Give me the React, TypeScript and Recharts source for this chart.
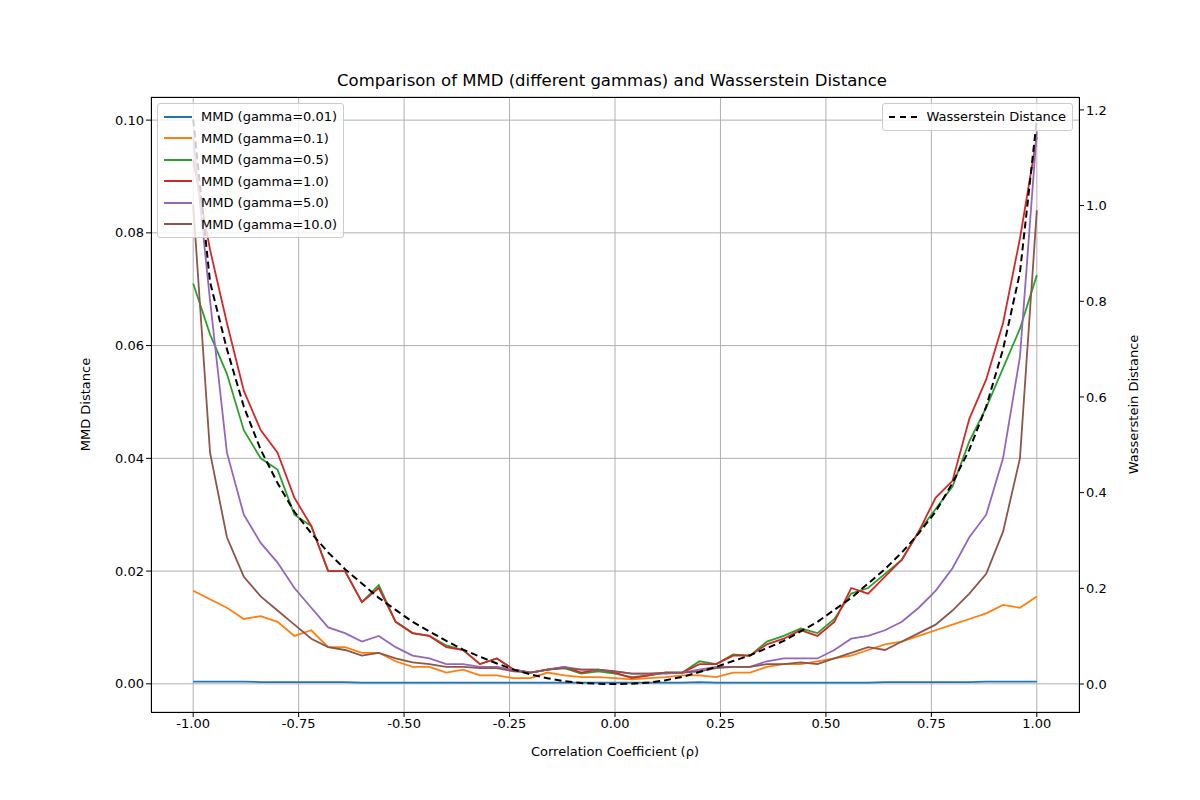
import { LineChart, Line, XAxis, YAxis, CartesianGrid } from 'recharts';

const rho = [
  -1, -0.96, -0.92, -0.88, -0.84, -0.8, -0.76, -0.72, -0.68, -0.64, -0.6, -0.56, -0.52, -0.48, -0.44, -0.4, -0.36,
  -0.32, -0.28, -0.24, -0.2, -0.16, -0.12, -0.08, -0.04, 0, 0.04, 0.08, 0.12, 0.16, 0.2, 0.24, 0.28, 0.32, 0.36, 0.4,
  0.44, 0.48, 0.52, 0.56, 0.6, 0.64, 0.68, 0.72, 0.76, 0.8, 0.84, 0.88, 0.92, 0.96, 1,
];

const g001 = [
  0.0004, 0.0004, 0.0004, 0.0004, 0.0003, 0.0003, 0.0003, 0.0003, 0.0003, 0.0003, 0.0002, 0.0002, 0.0002, 0.0002,
  0.0002, 0.0002, 0.0002, 0.0002, 0.0002, 0.0002, 0.0002, 0.0002, 0.0002, 0.0002, 0.0002, 0.0002, 0.0002, 0.0002,
  0.0002, 0.0002, 0.0003, 0.0002, 0.0002, 0.0002, 0.0002, 0.0002, 0.0002, 0.0002, 0.0002, 0.0002, 0.0002, 0.0003,
  0.0003, 0.0003, 0.0003, 0.0003, 0.0003, 0.0004, 0.0004, 0.0004, 0.0004,
];
const g01 = [
  0.0165, 0.015, 0.0135, 0.0115, 0.012, 0.011, 0.0085, 0.0095, 0.0065, 0.0065, 0.0055, 0.0055, 0.004, 0.003, 0.003,
  0.002, 0.0025, 0.0015, 0.0015, 0.001, 0.001, 0.002, 0.0015, 0.0012, 0.0012, 0.001, 0.0008, 0.001, 0.0012, 0.0015,
  0.0015, 0.0012, 0.002, 0.002, 0.003, 0.0035, 0.0035, 0.004, 0.0045, 0.005, 0.006, 0.007, 0.0075, 0.0085, 0.0095,
  0.0105, 0.0115, 0.0125, 0.014, 0.0135, 0.0155,
];
const g05 = [
  0.071, 0.062, 0.055, 0.045, 0.04, 0.038, 0.03, 0.028, 0.02, 0.02, 0.0145, 0.0175, 0.011, 0.009, 0.0085, 0.0068,
  0.006, 0.0035, 0.0045, 0.0025, 0.002, 0.0025, 0.0028, 0.0018, 0.0022, 0.0018, 0.0012, 0.0015, 0.002, 0.002, 0.004,
  0.0035, 0.0052, 0.005, 0.0075, 0.0085, 0.0098, 0.009, 0.0115, 0.016, 0.017, 0.0195, 0.022, 0.027, 0.031, 0.035,
  0.043, 0.049, 0.056, 0.063, 0.0725,
];
const g1 = [
  0.093, 0.077, 0.064, 0.052, 0.045, 0.041, 0.033, 0.028, 0.02, 0.02, 0.0145, 0.017, 0.011, 0.009, 0.0085, 0.0065,
  0.006, 0.0035, 0.0045, 0.0025, 0.002, 0.0025, 0.003, 0.002, 0.0025, 0.002, 0.001, 0.0015, 0.002, 0.002, 0.0035,
  0.0035, 0.005, 0.005, 0.007, 0.008, 0.0095, 0.0085, 0.011, 0.017, 0.016, 0.019, 0.022, 0.027, 0.033, 0.036, 0.047,
  0.054, 0.064, 0.079, 0.097,
];
const g5 = [
  0.097, 0.068, 0.041, 0.03, 0.025, 0.0215, 0.017, 0.0135, 0.01, 0.009, 0.0075, 0.0085, 0.0065, 0.005, 0.0045, 0.0035,
  0.0035, 0.003, 0.003, 0.0025, 0.002, 0.0025, 0.003, 0.0025, 0.0025, 0.0022, 0.0018, 0.0018, 0.0018, 0.002, 0.0025,
  0.003, 0.003, 0.003, 0.004, 0.0045, 0.0045, 0.0045, 0.006, 0.008, 0.0085, 0.0095, 0.011, 0.0135, 0.0165, 0.0205,
  0.026, 0.03, 0.04, 0.058, 0.098,
];
const g10 = [
  0.085, 0.041, 0.026, 0.019, 0.0155, 0.013, 0.0105, 0.008, 0.0065, 0.006, 0.005, 0.0055, 0.0045, 0.0038, 0.0035,
  0.003, 0.003, 0.0028, 0.0028, 0.0022, 0.002, 0.0025, 0.0028, 0.0025, 0.0025, 0.0022, 0.0018, 0.0018, 0.002, 0.002,
  0.0022, 0.0028, 0.003, 0.003, 0.0035, 0.0035, 0.0038, 0.0035, 0.0045, 0.0055, 0.0065, 0.006, 0.0075, 0.009, 0.0105,
  0.013, 0.016, 0.0195, 0.027, 0.04, 0.084,
];
const wass = [
  1.18, 0.84, 0.7, 0.58, 0.49, 0.42, 0.36, 0.315, 0.275, 0.24, 0.21, 0.18, 0.155, 0.13, 0.11, 0.09, 0.072, 0.057,
  0.043, 0.03, 0.02, 0.012, 0.006, 0.002, 0.0005, 0, 0.0005, 0.003, 0.008, 0.015, 0.025, 0.036, 0.048, 0.06, 0.075,
  0.09, 0.11, 0.13, 0.155, 0.18, 0.21, 0.24, 0.275, 0.315, 0.36, 0.42, 0.49, 0.58, 0.7, 0.86, 1.18,
];

const xTicks = [-1, -0.75, -0.5, -0.25, 0, 0.25, 0.5, 0.75, 1];
const leftTicks = [0, 0.02, 0.04, 0.06, 0.08, 0.1];
const rightTicks = [0, 0.2, 0.4, 0.6, 0.8, 1.0, 1.2];

const series = [
  { key: 'g001', name: 'MMD (gamma=0.01)', color: '#1f77b4' },
  { key: 'g01', name: 'MMD (gamma=0.1)', color: '#ff7f0e' },
  { key: 'g05', name: 'MMD (gamma=0.5)', color: '#2ca02c' },
  { key: 'g1', name: 'MMD (gamma=1.0)', color: '#d62728' },
  { key: 'g5', name: 'MMD (gamma=5.0)', color: '#9467bd' },
  { key: 'g10', name: 'MMD (gamma=10.0)', color: '#8c564b' },
];

const data = rho.map((r, i) => ({
  rho: r,
  g001: g001[i],
  g01: g01[i],
  g05: g05[i],
  g1: g1[i],
  g5: g5[i],
  g10: g10[i],
  wass: wass[i],
}));

const font = 'DejaVu Sans, sans-serif';
const tick = { fill: '#000', fontSize: 13, fontFamily: font };

export default function App() {
  return (
    <div style={{ position: 'absolute', left: 0, top: 0, width: 1200, height: 800, background: '#fff', fontFamily: font }}>
      <div style={{ position: 'absolute', top: 71, width: 1224, textAlign: 'center', fontSize: 16.5 }}>
        Comparison of MMD (different gammas) and Wasserstein Distance
      </div>
      <LineChart width={1200} height={800} data={data} margin={{ top: 97, left: 91, right: 61, bottom: 58 }}>
        <CartesianGrid stroke="#b0b0b0" strokeWidth={1} yAxisId="left" />
        <XAxis
          dataKey="rho"
          type="number"
          domain={[-1.1, 1.1]}
          ticks={xTicks}
          tickFormatter={(v: number) => v.toFixed(2)}
          tick={tick}
          tickSize={5}
          axisLine={false}
          tickLine={{ stroke: '#000' }}
          height={30}
          label={{ value: 'Correlation Coefficient (ρ)', position: 'insideBottom', offset: -14, fill: '#000', fontSize: 13, fontFamily: font }}
        />
        <YAxis
          yAxisId="left"
          type="number"
          domain={[-0.005, 0.1041]}
          ticks={leftTicks}
          tickFormatter={(v: number) => v.toFixed(2)}
          tick={tick}
          tickSize={5}
          axisLine={false}
          tickLine={{ stroke: '#000' }}
          width={60}
          label={{ value: 'MMD Distance', angle: -90, position: 'insideLeft', offset: -6, fill: '#000', fontSize: 13, fontFamily: font, style: { textAnchor: 'middle' } }}
        />
        <YAxis
          yAxisId="right"
          orientation="right"
          type="number"
          domain={[-0.0585, 1.227]}
          ticks={rightTicks}
          tickFormatter={(v: number) => v.toFixed(1)}
          tick={tick}
          tickSize={5}
          axisLine={false}
          tickLine={{ stroke: '#000' }}
          width={60}
          label={{ value: 'Wasserstein Distance', angle: -90, position: 'insideRight', offset: 6, fill: '#000', fontSize: 13, fontFamily: font, style: { textAnchor: 'middle' } }}
        />
        {series.map((s) => (
          <Line
            key={s.key}
            yAxisId="left"
            dataKey={s.key}
            stroke={s.color}
            strokeWidth={1.8}
            dot={false}
            type="linear"
            isAnimationActive={false}
          />
        ))}
        <Line
          yAxisId="right"
          dataKey="wass"
          stroke="#000"
          strokeWidth={2}
          strokeDasharray="7 4"
          dot={false}
          type="linear"
          isAnimationActive={false}
        />
      </LineChart>
      <div style={{ position: 'absolute', left: 151, top: 97, width: 927, height: 614, border: '1px solid #000', pointerEvents: 'none' }} />
      <div style={{ position: 'absolute', left: 157, top: 103, padding: '2px 6px', background: 'rgba(255,255,255,0.8)', border: '1px solid #ccc', borderRadius: 3, fontSize: 13 }}>
        {series.map((s) => (
          <div key={s.key} style={{ display: 'flex', alignItems: 'center', height: 21.5 }}>
            <div style={{ width: 28, height: 2, background: s.color, marginRight: 9 }} />
            <span>{s.name}</span>
          </div>
        ))}
      </div>
      <div style={{ position: 'absolute', right: 127, top: 103, padding: '2px 6px', background: 'rgba(255,255,255,0.8)', border: '1px solid #ccc', borderRadius: 3, fontSize: 13 }}>
        <div style={{ display: 'flex', alignItems: 'center', height: 21.5 }}>
          <div style={{ width: 28, borderTop: '2px dashed #000', marginRight: 9 }} />
          <span>Wasserstein Distance</span>
        </div>
      </div>
    </div>
  );
}
